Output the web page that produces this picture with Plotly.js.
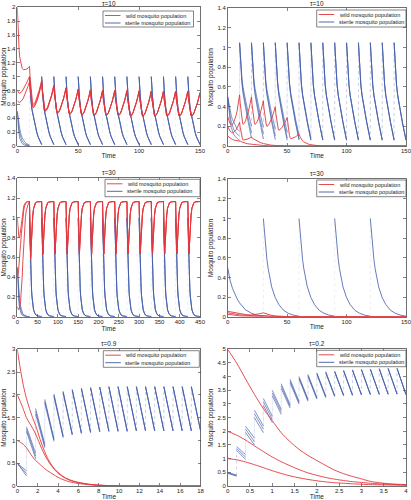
<!DOCTYPE html>
<html>
<head>
<meta charset="utf-8">
<script src="https://cdn.plot.ly/plotly-3.0.1.min.js"></script>
<style>
html,body{margin:0;padding:0;background:#fff;}
#chart{width:411px;height:500px;}
</style>
</head>
<body>
<div id="chart"></div>
<script>
// ================= DATA =================
// ---- Panel A: tau = 10, wild population persists (x 0-150) ----
const A_impulseT = [10,20,30,40,50,60,70,80,90,100,110,120,130,140];
const A_sterileTop = [1,1,1,1,1,1,1,1,1,1,1,1,1,1];
const A_sterileEnd = [0.02,0.02,0.02,0.02,0.02,0.02,0.02,0.02,0.02,0.02,0.02,0.02,0.02,0.02];
const A_decayDt = [0,0.5,1,2,3,4,5,6,7,8,9,10];
const A_decayFrac = [1,0.82,0.7,0.52,0.42,0.33,0.25,0.18,0.12,0.08,0.04,0];
const A_sterileInitT = [0,0.5,1,2,3,4,6,8,10];
const A_sterileInit1 = [0.5,0.33,0.22,0.11,0.06,0.035,0.012,0.004,0.001];
const A_sterileInit2 = [0.5,0.38,0.29,0.18,0.11,0.07,0.03,0.012,0.005];
const A_sterileInit3 = [0.5,0.42,0.35,0.25,0.17,0.12,0.06,0.028,0.012];
const A_wildInitT = [0,0.5,1,1.5,2,3,4,5,6,7,8,9,10];
const A_wildInit1 = [2.0,1.72,1.52,1.38,1.28,1.17,1.12,1.1,1.1,1.1,1.11,1.13,1.15];
const A_wildInit2 = [0.8,0.78,0.77,0.76,0.76,0.77,0.79,0.82,0.85,0.88,0.92,0.96,1.0];
const A_wildInit3 = [0.65,0.64,0.63,0.63,0.63,0.64,0.66,0.69,0.73,0.77,0.82,0.87,0.93];
const A_wildPeaks1 = [1.15,0.95,0.88,0.84,0.82,0.81,0.8,0.8,0.8,0.79,0.79,0.79,0.79,0.79];
const A_wildMins1  = [0.6,0.52,0.48,0.46,0.45,0.44,0.44,0.44,0.43,0.43,0.43,0.43,0.43,0.43];
const A_wildPeaks2 = [1.0,0.92,0.87,0.84,0.82,0.81,0.8,0.8,0.8,0.8,0.79,0.79,0.79,0.79];
const A_wildMins2  = [0.57,0.51,0.48,0.46,0.45,0.44,0.44,0.44,0.44,0.43,0.43,0.43,0.43,0.43];
const A_wildPeaks3 = [0.93,0.9,0.86,0.83,0.81,0.8,0.8,0.8,0.79,0.79,0.79,0.79,0.79,0.79];
const A_wildMins3  = [0.55,0.5,0.47,0.455,0.445,0.44,0.44,0.435,0.43,0.43,0.43,0.43,0.43,0.43];
const A_wildEnd = [0.77,0.77,0.77];
const A_dropDt = [0,0.5,1,1.5,2,2.5,3];
const A_dropFrac = [1,0.72,0.48,0.29,0.14,0.05,0];
const A_riseDt = [3,4,5,6,7,8,9,10];
const A_riseFrac = [0,0.04,0.13,0.26,0.41,0.58,0.78,1];

// ---- Panel B: tau = 10, wild population eradicated (x 0-150) ----
const B_impulseT = [10,20,30,40,50,60,70,80,90,100,110,120,130,140];
const B_sterileTop = [1.05,1.05,1.05,1.05,1.05,1.05,1.05,1.05,1.05,1.05,1.05,1.05,1.05,1.05];
const B_sterileEnd1 = [0.2,0.19,0.17,0.14,0.11,0.08,0.065,0.06,0.06,0.06,0.06,0.06,0.06,0.06];
const B_sterileEnd2 = [0.13,0.12,0.1,0.08,0.07,0.06,0.06,0.06,0.06,0.06,0.06,0.06,0.06,0.06];
const B_sterileEnd3 = [0.08,0.07,0.065,0.06,0.06,0.06,0.06,0.06,0.06,0.06,0.06,0.06,0.06,0.06];
const B_decayDt = [0,0.5,1,2,3,4,5,6,7,8,9,10];
const B_decayFrac = [1,0.85,0.73,0.57,0.46,0.38,0.31,0.24,0.18,0.12,0.06,0];
const B_sterileInitT = [0,1,2,3,4,5,6,7,8,9,10];
const B_sterileInit1 = [0.5,0.42,0.36,0.31,0.27,0.24,0.21,0.19,0.17,0.16,0.15];
const B_sterileInit2 = [0.5,0.39,0.31,0.25,0.2,0.17,0.15,0.13,0.12,0.11,0.1];
const B_sterileInit3 = [0.5,0.36,0.26,0.19,0.15,0.12,0.1,0.085,0.075,0.065,0.06];
const B_wildInitT = [0,1,2,3,4,5,6,7,8,9,10];
const B_wildInit1 = [0.3,0.25,0.225,0.215,0.22,0.24,0.27,0.31,0.36,0.43,0.52];
const B_wildImpT1 = [10,20,30,40,50];
const B_wildPeaks1 = [0.52,0.5,0.46,0.4,0.29];
const B_wildMins1 = [0.22,0.22,0.2,0.16,0.075];
const B_wildEnd1 = 0.12;
const B_wildTailT1 = [60,61,62,63,64,66,68,70,73,76,80,90,150];
const B_wildTail1 = [0.12,0.09,0.068,0.052,0.041,0.028,0.019,0.013,0.007,0.003,0.001,0,0];
const B_wildInit2 = [0.2,0.17,0.15,0.14,0.135,0.14,0.15,0.165,0.185,0.21,0.24];
const B_wildImpT2 = [10];
const B_wildPeaks2 = [0.24];
const B_wildMins2 = [0.06];
const B_wildEnd2 = 0.09;
const B_wildTailT2 = [20,22,24,26,28,30,33,36,40,45,50,150];
const B_wildTail2 = [0.09,0.07,0.055,0.042,0.032,0.025,0.016,0.01,0.005,0.002,0.001,0];
const B_wild3T = [0,2,4,6,8,10,11,12,14,17,20,25,30,35,40,150];
const B_wild3 = [0.1,0.08,0.066,0.058,0.055,0.056,0.048,0.04,0.03,0.022,0.018,0.01,0.005,0.002,0.001,0];

// ---- Panel C: tau = 30, wild population persists (x 0-450) ----
const C_impulseT = [30,60,90,120,150,180,210,240,270,300,330,360,390,420];
const C_sterileTop = [1,1,1,1,1,1,1,1,1,1,1,1,1,1];
const C_sterileEnd = [0.001,0.001,0.001,0.001,0.001,0.001,0.001,0.001,0.001,0.001,0.001,0.001,0.001,0.001];
const C_decayDt = [0,1,2,3,4,5,6,8,10,13,16,20,25,30];
const C_decayFrac = [1,0.8,0.62,0.48,0.37,0.28,0.21,0.12,0.07,0.035,0.015,0.006,0.002,0];
const C_sterileInitT = [0,1,2,3,4,6,8,10,13,16,20,25,30];
const C_sterileInit1 = [0.5,0.36,0.26,0.19,0.14,0.08,0.045,0.025,0.012,0.006,0.002,0.001,0];
const C_sterileInit2 = [0.5,0.4,0.31,0.24,0.19,0.12,0.075,0.045,0.022,0.011,0.005,0.002,0.001];
const C_sterileInit3 = [0.5,0.43,0.36,0.3,0.25,0.17,0.11,0.07,0.037,0.019,0.008,0.003,0.001];
const C_wildInitT = [0,1,2,3,4,5,6,7,8,10,12,14,16,18,20,22,25,28,30];
const C_wildInit1 = [1.0,0.92,0.86,0.82,0.8,0.8,0.81,0.84,0.87,0.95,1.03,1.09,1.12,1.14,1.155,1.16,1.165,1.165,1.165];
const C_wildInit2 = [0.4,0.41,0.43,0.46,0.5,0.55,0.61,0.67,0.73,0.84,0.94,1.02,1.08,1.12,1.145,1.155,1.162,1.165,1.165];
const C_wildInit3 = [0.1,0.08,0.07,0.07,0.075,0.085,0.1,0.12,0.15,0.25,0.4,0.58,0.76,0.9,1.0,1.07,1.13,1.155,1.165];
const C_wildPeaks = [1.165,1.165,1.165,1.165,1.165,1.165,1.165,1.165,1.165,1.165,1.165,1.165,1.165,1.165];
const C_wildMins1 = [0.58,0.63,0.635,0.635,0.635,0.635,0.635,0.635,0.635,0.635,0.635,0.635,0.635,0.635];
const C_wildMins2 = [0.6,0.632,0.635,0.635,0.635,0.635,0.635,0.635,0.635,0.635,0.635,0.635,0.635,0.635];
const C_wildMins3 = [0.615,0.634,0.635,0.635,0.635,0.635,0.635,0.635,0.635,0.635,0.635,0.635,0.635,0.635];
const C_wildEnd = 1.165;
const C_dropDt = [0,0.5,1,1.5,2,2.5,3];
const C_dropFrac = [1,0.8,0.58,0.37,0.19,0.06,0];
const C_riseDt = [3,4,5,6,7,8,10,12,15,20,25,30];
const C_riseFrac = [0,0.17,0.35,0.5,0.63,0.74,0.87,0.94,0.98,0.995,1,1];

// ---- Panel D: tau = 30, wild population eradicated (x 0-150) ----
const D_impulseT = [30,60,90,120];
const D_sterileTop = [1,1,1,1];
const D_sterileEnd = [0.005,0.005,0.005,0.005];
const D_decayDt = [0,1,2,3,4,5,7,10,13,17,21,25,30];
const D_decayFrac = [1,0.83,0.7,0.58,0.49,0.41,0.3,0.19,0.12,0.06,0.03,0.012,0];
const D_sterileInitT = [0,1,2,4,6,8,10,12,15,20,25,30];
const D_sterileInit = [0.5,0.43,0.37,0.29,0.23,0.18,0.14,0.11,0.07,0.035,0.015,0.005];
const D_wild1T = [0,2,4,6,8,10,13,16,20,24,27,30,31,33,36,40,45,50,60,150];
const D_wild1 = [0.055,0.05,0.045,0.04,0.035,0.03,0.025,0.02,0.018,0.022,0.03,0.04,0.035,0.026,0.016,0.008,0.003,0.001,0,0];
const D_wild2T = [0,3,6,10,15,20,25,30,33,38,45,55,150];
const D_wild2 = [0.04,0.032,0.026,0.02,0.014,0.01,0.009,0.012,0.008,0.004,0.001,0,0];
const D_wild3T = [0,3,6,10,15,20,30,40,150];
const D_wild3 = [0.025,0.018,0.013,0.009,0.006,0.004,0.003,0.001,0];

// ---- Panel E: tau = 0.9 (x 0-18) ----
const E_impulseT = [0.9,1.8,2.7,3.6,4.5,5.4,6.3,7.2,8.1,9,9.9,10.8,11.7,12.6,13.5,14.4,15.3,16.2,17.1];
const E_xEnd = 18;
const E_sterileTop1 = [0.5,1.3,1.7,1.9,2.02,2.08,2.12,2.15,2.16,2.17,2.18,2.18,2.18,2.18,2.18,2.18,2.18,2.18,2.18,2.18];
const E_sterileEnd1 = [0.33,0.72,0.92,1.04,1.1,1.14,1.17,1.18,1.19,1.2,1.2,1.2,1.21,1.21,1.21,1.21,1.21,1.21,1.21,1.22];
const E_sterileTop2 = [0.5,1.25,1.64,1.86,1.99,2.06,2.11,2.14,2.16,2.17,2.18,2.18,2.18,2.18,2.18,2.18,2.18,2.18,2.18,2.18];
const E_sterileEnd2 = [0.27,0.66,0.88,1.01,1.08,1.13,1.16,1.18,1.19,1.2,1.2,1.2,1.21,1.21,1.21,1.21,1.21,1.21,1.21,1.22];
const E_sterileTop3 = [0.5,1.2,1.58,1.82,1.96,2.04,2.1,2.13,2.15,2.17,2.18,2.18,2.18,2.18,2.18,2.18,2.18,2.18,2.18,2.18];
const E_sterileEnd3 = [0.22,0.6,0.84,0.98,1.06,1.12,1.15,1.17,1.19,1.2,1.2,1.2,1.21,1.21,1.21,1.21,1.21,1.21,1.21,1.22];
const E_wildT = [0,0.3,0.6,0.9,1.2,1.5,1.8,2.1,2.4,2.7,3.0,3.5,4,4.5,5,5.5,6,7,8,9,10,12,18];
const E_wild1 = [3.0,2.57,2.2,1.92,1.7,1.5,1.33,1.12,0.92,0.75,0.6,0.42,0.3,0.21,0.15,0.11,0.08,0.04,0.02,0.009,0.004,0.001,0];
const E_wild2 = [2.0,1.85,1.68,1.5,1.38,1.27,1.14,0.98,0.82,0.68,0.56,0.4,0.28,0.2,0.14,0.1,0.075,0.038,0.018,0.008,0.003,0.001,0];
const E_wild3 = [1.0,0.96,0.91,0.84,0.74,0.64,0.56,0.5,0.44,0.38,0.33,0.26,0.19,0.14,0.1,0.075,0.055,0.03,0.014,0.006,0.003,0.001,0];

// ---- Panel F: tau = 0.2 (x 0-4) ----
const F_impulseT = [0.2,0.4,0.6,0.8,1.0,1.2,1.4,1.6,1.8,2.0,2.2,2.4,2.6,2.8,3.0,3.2,3.4,3.6,3.8];
const F_xEnd = 4;
const F_sterileTop1 = [0.5,1.44,2.19,2.77,3.2,3.5,3.74,3.9,4.0,4.08,4.14,4.18,4.2,4.23,4.25,4.27,4.28,4.29,4.3,4.3];
const F_sterileEnd1 = [0.4,1.15,1.75,2.2,2.55,2.8,2.98,3.1,3.18,3.24,3.28,3.3,3.32,3.33,3.34,3.35,3.35,3.36,3.36,3.34];
const F_sterileTop2 = [0.48,1.37,2.08,2.64,3.08,3.4,3.66,3.84,3.96,4.04,4.11,4.16,4.19,4.22,4.24,4.26,4.28,4.29,4.3,4.3];
const F_sterileEnd2 = [0.38,1.06,1.62,2.08,2.44,2.72,2.92,3.05,3.14,3.21,3.26,3.29,3.31,3.32,3.34,3.35,3.35,3.36,3.36,3.34];
const F_sterileTop3 = [0.46,1.3,1.96,2.5,2.95,3.3,3.57,3.77,3.91,4.0,4.08,4.13,4.17,4.2,4.23,4.25,4.27,4.28,4.29,4.3];
const F_sterileEnd3 = [0.36,0.97,1.5,1.95,2.32,2.62,2.85,3.0,3.1,3.18,3.23,3.27,3.3,3.31,3.33,3.34,3.35,3.35,3.36,3.34];
const F_wildT = [0,0.2,0.4,0.6,0.8,1.0,1.2,1.4,1.6,1.8,2.0,2.2,2.4,2.6,2.8,3.0,3.2,3.4,3.6,3.8,4.0];
const F_wild1 = [5.0,4.5,3.92,3.35,2.83,2.39,1.95,1.62,1.34,1.12,0.93,0.75,0.58,0.45,0.35,0.26,0.17,0.12,0.085,0.065,0.05];
const F_wild2 = [2.0,1.86,1.68,1.47,1.26,1.06,0.89,0.74,0.6,0.48,0.39,0.31,0.25,0.2,0.16,0.13,0.1,0.08,0.065,0.05,0.04];
const F_wild3 = [1.0,0.96,0.88,0.78,0.67,0.56,0.46,0.37,0.3,0.24,0.19,0.15,0.12,0.1,0.08,0.065,0.05,0.045,0.04,0.035,0.03];

// ---- text ----
const panelTitles = ['τ=10','τ=10','τ=30','τ=30','τ=0.9','τ=0.2'];
const legendLabels = ['wild mosquito population','sterile mosquito population'];
const xTitle = 'Time';
const yTitle = 'Mosquito population';

// ================= LAYOUT / STYLE =================
const W = 411, H = 500;
const RED = '#e2383d', BLUE = '#3f5aa8', JUMP = 'rgba(110,130,200,0.35)';
const FONT = '"Liberation Sans", Arial, Helvetica, sans-serif';
// plot boxes in page pixels
const boxes = [
  {l:17.3, r:200, t:7.3, b:146, xr:[0,150], xd:50, yr:[0,2], yd:0.2,
   leg:{l:103, t:11, r:193.5, b:27}},
  {l:227.7, r:406, t:8.3, b:146, xr:[0,150], xd:50, yr:[0,1.4], yd:0.2,
   leg:{l:316.7, t:10, r:406, b:27}},
  {l:17.3, r:200, t:178.3, b:316.7, xr:[0,450], xd:50, yr:[0,1.4], yd:0.2,
   leg:{l:105, t:179.3, r:200, b:196.7}},
  {l:227.7, r:406, t:179.3, b:316.7, xr:[0,150], xd:50, yr:[0,1.4], yd:0.2,
   leg:{l:316.7, t:180, r:406, b:196.7}},
  {l:17.3, r:200.5, t:349.3, b:486, xr:[0,18], xd:2, yr:[0,3], yd:0.5,
   leg:{l:103.3, t:350.7, r:199.3, b:367.3}},
  {l:227.7, r:406, t:349.3, b:486, xr:[0,4], xd:0.5, yr:[0,5], yd:0.5,
   leg:{l:316.7, t:350.3, r:406, b:366.7}}
];

// ================= helpers =================
function decaySegments(times, tops, ends, dts, fracs) {
  const x = [], y = [];
  times.forEach((T, k) => {
    dts.forEach((d, i) => { x.push(T + d); y.push(ends[k] + (tops[k] - ends[k]) * fracs[i]); });
    x.push(null); y.push(null);
  });
  return {x, y};
}
function sawWild(times, peaks, mins, lastEnd, dDt, dFr, rDt, rFr) {
  const x = [], y = [];
  times.forEach((T, k) => {
    const p = peaks[k], m = mins[k];
    const n = k + 1 < times.length ? peaks[k + 1] : lastEnd;
    dDt.forEach((d, i) => { x.push(T + d); y.push(m + (p - m) * dFr[i]); });
    rDt.forEach((d, i) => { if (i === 0) return; x.push(T + d); y.push(m + (n - m) * rFr[i]); });
  });
  return {x, y};
}
function linearSegments(impulses, xEnd, tops, ends) {
  const starts = [0].concat(impulses), stops = impulses.concat([xEnd]);
  const x = [], y = [];
  starts.forEach((s, k) => { x.push(s, stops[k], null); y.push(tops[k], ends[k], null); });
  return {x, y};
}
function jumpLines(times, fromVals, toVals) {
  const x = [], y = [];
  times.forEach((T, k) => { x.push(T, T, null); y.push(fromVals[k], toVals[k], null); });
  return {x, y};
}
function cat(a, b) { return {x: a.x.concat([null], b.x), y: a.y.concat([null], b.y)}; }
function join(a, b) { return {x: a.x.concat(b.x), y: a.y.concat(b.y)}; }

const traces = [];
function addLine(n, xy, color, width, dash, shape) {
  traces.push({
    type: 'scatter', mode: 'lines', x: xy.x, y: xy.y,
    xaxis: n === 1 ? 'x' : 'x' + n, yaxis: n === 1 ? 'y' : 'y' + n,
    line: {color: color, width: width, dash: dash || 'solid', shape: shape || 'linear', smoothing: 0.8},
    connectgaps: false, hoverinfo: 'skip', showlegend: false
  });
}
const WB = 0.65, WR = 0.9, WJ = 0.4;

// ================= Panel A =================
[A_sterileInit1, A_sterileInit2, A_sterileInit3].forEach((init) => {
  const dec = decaySegments(A_impulseT, A_sterileTop, A_sterileEnd, A_decayDt, A_decayFrac);
  addLine(1, cat({x: A_sterileInitT, y: init}, dec), BLUE, WB);
});
{
  const init = A_sterileInit1;
  const from = [init[init.length - 1]].concat(A_sterileEnd.slice(0, -1));
  addLine(1, jumpLines(A_impulseT, from, A_sterileTop), JUMP, WJ, 'dot');
}
[[A_wildInit1, A_wildPeaks1, A_wildMins1, A_wildEnd[0]],
 [A_wildInit2, A_wildPeaks2, A_wildMins2, A_wildEnd[1]],
 [A_wildInit3, A_wildPeaks3, A_wildMins3, A_wildEnd[2]]].forEach(([init, pk, mn, en]) => {
  const saw = sawWild(A_impulseT, pk, mn, en, A_dropDt, A_dropFrac, A_riseDt, A_riseFrac);
  addLine(1, join({x: A_wildInitT, y: init}, saw), RED, WR);
});

// ================= Panel B =================
[[B_sterileInit1, B_sterileEnd1],[B_sterileInit2, B_sterileEnd2],[B_sterileInit3, B_sterileEnd3]].forEach(([init, ends]) => {
  const dec = decaySegments(B_impulseT, B_sterileTop, ends, B_decayDt, B_decayFrac);
  addLine(2, cat({x: B_sterileInitT, y: init}, dec), BLUE, WB);
  const from = [init[init.length - 1]].concat(ends.slice(0, -1));
  addLine(2, jumpLines(B_impulseT, from, B_sterileTop), JUMP, WJ, 'dot');
});
{
  const s1 = sawWild(B_wildImpT1, B_wildPeaks1, B_wildMins1, B_wildEnd1, A_dropDt, A_dropFrac, A_riseDt, A_riseFrac);
  addLine(2, join(join({x: B_wildInitT, y: B_wildInit1}, s1), {x: B_wildTailT1, y: B_wildTail1}), RED, WR);
  const s2 = sawWild(B_wildImpT2, B_wildPeaks2, B_wildMins2, B_wildEnd2, A_dropDt, A_dropFrac, A_riseDt, A_riseFrac);
  addLine(2, join(join({x: B_wildInitT, y: B_wildInit2}, s2), {x: B_wildTailT2, y: B_wildTail2}), RED, WR);
  addLine(2, {x: B_wild3T, y: B_wild3}, RED, WR);
}

// ================= Panel C =================
[C_sterileInit1, C_sterileInit2, C_sterileInit3].forEach((init) => {
  const dec = decaySegments(C_impulseT, C_sterileTop, C_sterileEnd, C_decayDt, C_decayFrac);
  addLine(3, cat({x: C_sterileInitT, y: init}, dec), BLUE, WB);
});
{
  const init = C_sterileInit1;
  const from = [init[init.length - 1]].concat(C_sterileEnd.slice(0, -1));
  addLine(3, jumpLines(C_impulseT, from, C_sterileTop), JUMP, WJ, 'dot');
}
[[C_wildInit1, C_wildMins1],[C_wildInit2, C_wildMins2],[C_wildInit3, C_wildMins3]].forEach(([init, mn]) => {
  const saw = sawWild(C_impulseT, C_wildPeaks, mn, C_wildEnd, C_dropDt, C_dropFrac, C_riseDt, C_riseFrac);
  addLine(3, join({x: C_wildInitT, y: init}, saw), RED, WR);
});

// ================= Panel D =================
{
  const dec = decaySegments(D_impulseT, D_sterileTop, D_sterileEnd, D_decayDt, D_decayFrac);
  addLine(4, cat({x: D_sterileInitT, y: D_sterileInit}, dec), BLUE, 0.8);
  const from = [D_sterileInit[D_sterileInit.length - 1]].concat(D_sterileEnd.slice(0, -1));
  addLine(4, jumpLines(D_impulseT, from, D_sterileTop), JUMP, WJ, 'dot');
  addLine(4, {x: D_wild1T, y: D_wild1}, RED, WR);
  addLine(4, {x: D_wild2T, y: D_wild2}, RED, WR);
  addLine(4, {x: D_wild3T, y: D_wild3}, RED, WR);
}

// ================= Panel E =================
[[E_sterileTop1, E_sterileEnd1],[E_sterileTop2, E_sterileEnd2],[E_sterileTop3, E_sterileEnd3]].forEach(([tp, en]) => {
  addLine(5, linearSegments(E_impulseT, E_xEnd, tp, en), BLUE, WB);
  addLine(5, jumpLines(E_impulseT, en.slice(0, -1), tp.slice(1)), JUMP, WJ, 'dot');
});
[E_wild1, E_wild2, E_wild3].forEach((w) => addLine(5, {x: E_wildT, y: w}, RED, WR, 'solid', 'spline'));

// ================= Panel F =================
[[F_sterileTop1, F_sterileEnd1],[F_sterileTop2, F_sterileEnd2],[F_sterileTop3, F_sterileEnd3]].forEach(([tp, en]) => {
  addLine(6, linearSegments(F_impulseT, F_xEnd, tp, en), BLUE, WB);
  addLine(6, jumpLines(F_impulseT, en.slice(0, -1), tp.slice(1)), JUMP, WJ, 'dot');
});
[F_wild1, F_wild2, F_wild3].forEach((w) => addLine(6, {x: F_wildT, y: w}, RED, WR, 'solid', 'spline'));

// ================= axes, titles, legends =================
const layout = {
  width: W, height: H, margin: {l: 0, r: 0, t: 0, b: 0},
  paper_bgcolor: '#fff', plot_bgcolor: '#fff', showlegend: false,
  font: {family: FONT, size: 6, color: '#222'},
  shapes: [], annotations: []
};
function axisCfg(domain, range, dtick, anchor, titleText, standoff, isX) {
  return {
    domain: domain, range: range, dtick: dtick, tick0: 0, anchor: anchor, autorange: false,
    showgrid: false, zeroline: false, showline: true, mirror: 'ticks',
    linecolor: '#333', linewidth: 0.7, ticks: 'inside', ticklen: 3, tickwidth: 0.6, tickcolor: '#333',
    ticklabelstandoff: isX ? -1 : 0, ticklabeloverflow: 'allow',
    tickfont: {size: 6, family: FONT, color: '#222'}, layer: 'below traces', fixedrange: true,
    title: {text: titleText, font: {size: 6.5, family: FONT, color: '#222'}, standoff: standoff}
  };
}
const px2x = (p) => p / W, px2y = (p) => 1 - p / H;
boxes.forEach((b, i) => {
  const n = i + 1, sx = n === 1 ? '' : String(n);
  layout['xaxis' + sx] = axisCfg([px2x(b.l), px2x(b.r)], b.xr, b.xd, 'y' + sx, xTitle, 0, true);
  layout['yaxis' + sx] = axisCfg([px2y(b.b), px2y(b.t)], b.yr, b.yd, 'x' + sx, yTitle, 3, false);
  // title
  layout.annotations.push({
    text: panelTitles[i], xref: 'paper', yref: 'paper',
    x: px2x((b.l + b.r) / 2), y: px2y(Math.max(b.t - 5.5, 3.4)), xanchor: 'center', yanchor: 'middle',
    showarrow: false, font: {size: 6.5, family: FONT, color: '#222'}
  });
  // legend box (MATLAB style)
  const L = b.leg;
  layout.shapes.push({type: 'rect', xref: 'paper', yref: 'paper',
    x0: px2x(L.l), x1: px2x(L.r), y0: px2y(L.b), y1: px2y(L.t),
    line: {color: '#333', width: 0.6}, fillcolor: '#fff', layer: 'above'});
  const rows = [L.t + 4.5, L.t + 12];
  [RED, BLUE].forEach((c, k) => {
    layout.shapes.push({type: 'line', xref: 'paper', yref: 'paper',
      x0: px2x(L.l + 2), x1: px2x(L.l + 17.5), y0: px2y(rows[k]), y1: px2y(rows[k]),
      line: {color: c, width: 0.9}, layer: 'above'});
    layout.annotations.push({
      text: legendLabels[k], xref: 'paper', yref: 'paper',
      x: px2x(L.l + 20), y: px2y(rows[k]), xanchor: 'left', yanchor: 'middle',
      showarrow: false, font: {size: 5.5, family: FONT, color: '#222'}
    });
  });
});

Plotly.newPlot('chart', traces, layout, {displayModeBar: false, staticPlot: true});
</script>
</body>
</html>
